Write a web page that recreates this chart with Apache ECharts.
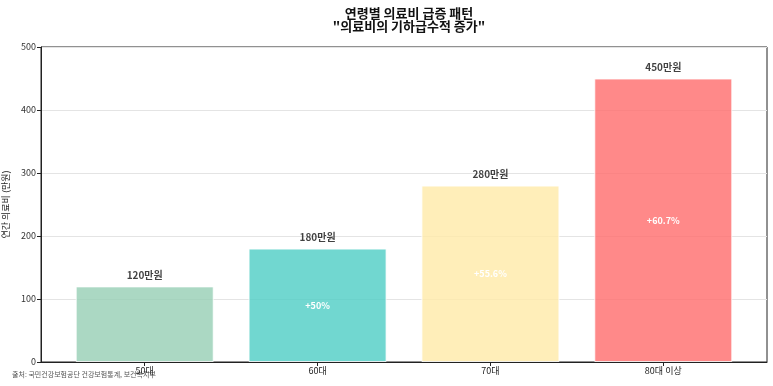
<!DOCTYPE html>
<html><head><meta charset="utf-8">
<script src="https://cdn.jsdelivr.net/npm/echarts@6/dist/echarts.min.js"></script>
<style>html,body{margin:0;padding:0;background:#fff}#c{width:773px;height:386px}</style>
</head><body><div id="c"></div>
<script>
const categories = ["50대", "60대", "70대", "80대 이상"];
const costs = [120, 180, 280, 450];
const growthLabels = ["", "+50%", "+55.6%", "+60.7%"];
const barColors = ["#96CEB4", "#4ECDC4", "#FFEAA7", "#FF6B6B"];
const yTicks = [0, 100, 200, 300, 400, 500];

const FONT = "'Noto Sans CJK KR', 'Noto Sans', sans-serif";
const chart = echarts.init(document.getElementById('c'), null, {renderer: 'canvas'});
const idx = categories.map((_, i) => i);

chart.setOption({
  animation: false,
  textStyle: {fontFamily: FONT},
  title: {
    text: '연령별 의료비 급증 패턴\n"의료비의 기하급수적 증가"',
    left: 404, top: 2, textAlign: 'center',
    textStyle: {fontSize: 13, fontWeight: 'bold', color: '#111', lineHeight: 13, fontFamily: FONT}
  },
  grid: {left: 41, right: 6, top: 47, bottom: 24, show: true, borderColor: '#222', borderWidth: 1,
    backgroundColor: 'transparent', containLabel: false, outerBoundsMode: 'none'},
  xAxis: {
    type: 'value', min: -0.6, max: 3.6,
    axisLine: {show: true, onZero: false, lineStyle: {color: '#222'}},
    axisTick: {show: true, customValues: idx, length: 4, lineStyle: {color: '#222'}},
    axisLabel: {customValues: idx, formatter: v => categories[Math.round(v)], fontSize: 9, color: '#222', margin: 4, fontFamily: FONT},
    splitLine: {show: false}
  },
  yAxis: {
    type: 'value', min: yTicks[0], max: yTicks[yTicks.length - 1], interval: 100,
    name: '연간 의료비 (만원)', nameLocation: 'middle', nameGap: 26,
    nameTextStyle: {fontSize: 9, color: '#222', fontFamily: FONT},
    axisLine: {show: true, onZero: false, lineStyle: {color: '#222'}},
    axisTick: {show: true, length: 4, lineStyle: {color: '#222'}},
    axisLabel: {fontSize: 9, color: '#333', margin: 5, fontFamily: FONT},
    splitLine: {show: true, lineStyle: {color: '#e4e4e4', width: 1}}
  },
  series: [
    {
      type: 'bar', barWidth: 138, barGap: '-100%',
      data: costs.map((v, i) => ({
        value: [i, v],
        itemStyle: {color: barColors[i], opacity: 0.8, borderColor: '#fff', borderWidth: 1}
      })),
      label: {show: true, position: 'top', distance: 6, formatter: p => p.value[1] + '만원',
        fontSize: 10, fontWeight: 'bold', color: '#111', fontFamily: FONT}
    },
    {
      type: 'bar', barWidth: 138, barGap: '-100%',
      data: costs.map((v, i) => ({
        value: [i, v],
        itemStyle: {color: 'rgba(0,0,0,0)'}
      })),
      label: {show: true, position: 'inside', formatter: p => growthLabels[p.dataIndex],
        fontSize: 9, fontWeight: 'bold', color: '#fff', fontFamily: FONT},
      silent: true
    }
  ],
  graphic: [{
    type: 'text', left: 12, top: 371,
    style: {text: '출처: 국민건강보험공단 건강보험통계, 보건복지부', fontSize: 7, fill: '#555', fontFamily: FONT}
  }]
});
</script></body></html>
